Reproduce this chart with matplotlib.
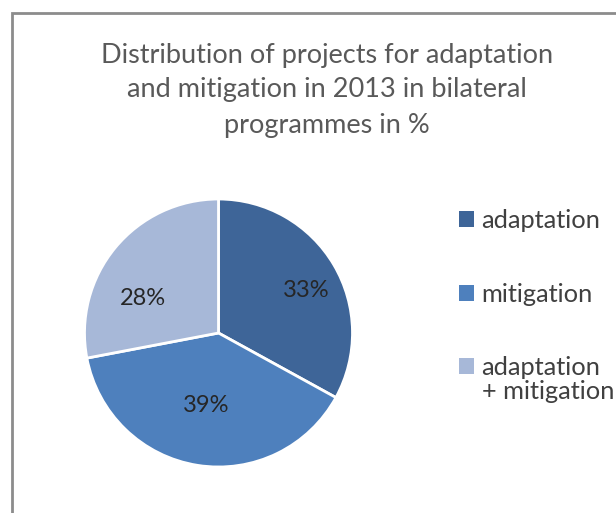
import numpy as np
import matplotlib
matplotlib.use("Agg")
import matplotlib.pyplot as plt
from matplotlib.patches import Rectangle, Patch

plt.rcParams['font.family'] = ['Lato', 'DejaVu Sans']

# data
categories = ["adaptation", "mitigation", "adaptation\n+ mitigation"]
shares = [33, 39, 28]
colors = ["#3e6598", "#4e80bd", "#a7b8d8"]
title = "Distribution of projects for adaptation\nand mitigation in 2013 in bilateral\nprogrammes in %"

# label placement inside the wedges (fraction of radius, angle tweak in degrees)
label_r = [0.73, 0.55, 0.62]
label_shift = [-5, -1, 15]

fig = plt.figure(figsize=(6.16, 5.13), dpi=100)

# chart frame
fig.patches.append(Rectangle((12 / 616, -0.1), 1.2, (513 - 13) / 513 + 0.1,
                             transform=fig.transFigure, fill=False,
                             edgecolor="#8c8c8c", linewidth=2))

fig.text(327 / 616, 1 - 90 / 513, title, ha="center", va="center",
         fontsize=19.5, color="#595959", linespacing=1.5)

ax = fig.add_axes([84.5 / 616, 46 / 513, 268 / 616, 268 / 513])
wedges, _ = ax.pie(shares, colors=colors, startangle=90, counterclock=False,
                   radius=1, wedgeprops=dict(edgecolor="white", linewidth=2))
ax.set_xlim(-1, 1)
ax.set_ylim(-1, 1)
ax.set_aspect("equal")

for w, v, r, d in zip(wedges, shares, label_r, label_shift):
    ang = np.deg2rad((w.theta1 + w.theta2) / 2 + d)
    ax.text(r * np.cos(ang), r * np.sin(ang), f"{v}%", ha="center", va="center",
            fontsize=17, color="#262626")

# legend: first line of each label next to the square, rest below it
first_lines = [c.split("\n")[0] for c in categories]
handles = [Patch(facecolor=c, edgecolor="none") for c in colors]
leg = fig.legend(handles, first_lines, loc="upper left",
                 bbox_to_anchor=(446 / 616, 1 - 196 / 513), frameon=False,
                 fontsize=18.3, labelcolor="#404040", handlelength=0.59,
                 handleheight=0.59, handletextpad=0.31, labelspacing=2.0,
                 borderpad=0)

fig.canvas.draw()
for txt, c in zip(leg.get_texts(), categories):
    rest = c.split("\n")[1:]
    if rest:
        bb = txt.get_window_extent()
        fig.text(bb.x0, bb.y0 - 1, "\n".join(rest), fontsize=18.3,
                 color="#404040", transform=None, va="top", ha="left")

fig.savefig("out.png", dpi=100)
